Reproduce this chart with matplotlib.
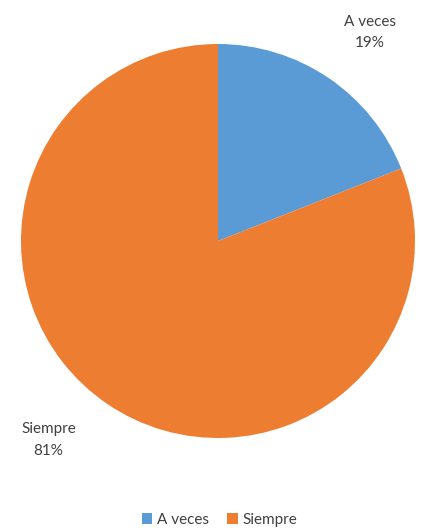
import matplotlib.pyplot as plt
from matplotlib.patches import Patch

categorias = ['A veces', 'Siempre']
porcentajes = [19, 81]
colores = ['#5B9BD5', '#ED7D31']

plt.rcParams['font.family'] = ['Lato', 'DejaVu Sans']

fig = plt.figure(figsize=(4.22, 5.31), dpi=100)
W, H = 422, 531
cx, cy, r = 218, 290, 197
ax = fig.add_axes([(cx - r) / W, (cy - r) / H, 2 * r / W, 2 * r / H])

ax.pie(porcentajes, colors=colores, startangle=90, counterclock=False,
       radius=1, wedgeprops={'linewidth': 0})
ax.set_xlim(-1, 1)
ax.set_ylim(-1, 1)
ax.set_aspect('equal')
ax.axis('off')

# etiquetas de datos fuera del círculo
pos_etiquetas = [(0.77, 1.06), (-0.86, -1.01)]
for cat, val, (x, y) in zip(categorias, porcentajes, pos_etiquetas):
    ax.text(x, y, f'{cat}\n{val}%', ha='center', va='center', fontsize=11,
            color='#404040', linespacing=1.65, clip_on=False)

handles = [Patch(facecolor=c, label=l) for c, l in zip(colores, categorias)]
fig.legend(handles=handles, loc='center', bbox_to_anchor=(0.52, 1 - 520 / H),
           ncol=2, frameon=False, fontsize=11, handlelength=0.7,
           handleheight=0.7, handletextpad=0.3, columnspacing=1.2,
           labelcolor='#404040')

fig.savefig('out.png', dpi=100)
